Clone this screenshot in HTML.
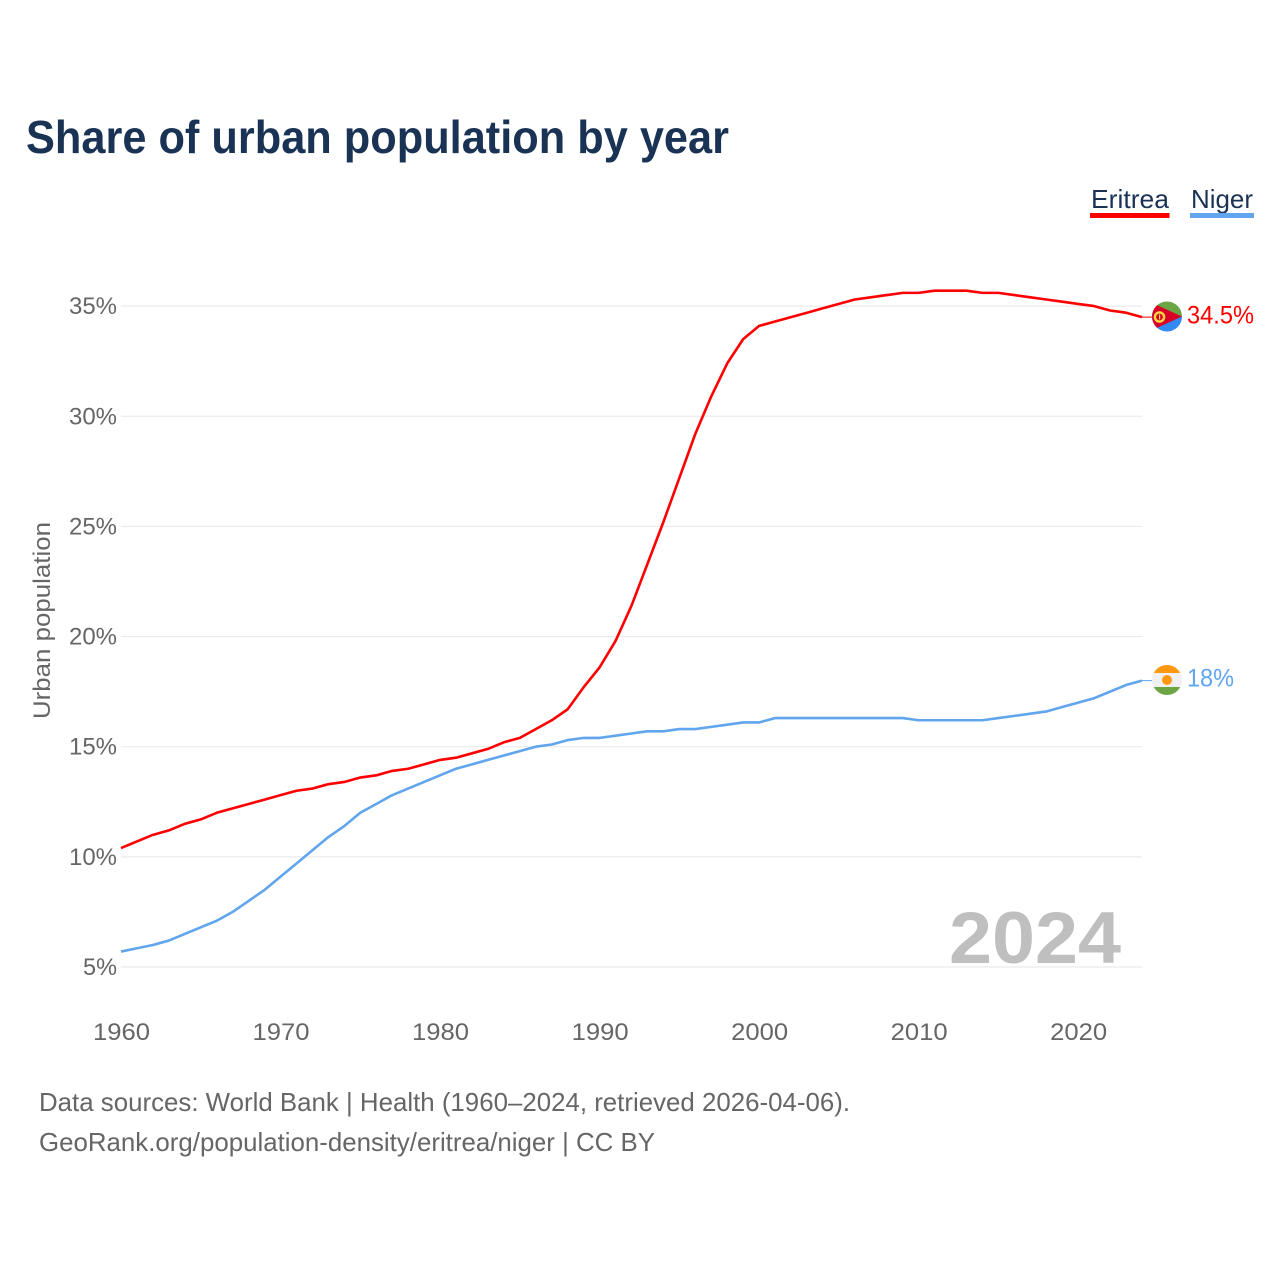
<!DOCTYPE html>
<html>
<head>
<meta charset="utf-8">
<title>Share of urban population by year</title>
<style>
html,body{margin:0;padding:0;background:#fff;width:1280px;height:1280px;overflow:hidden}
svg{display:block}
text{font-family:"Liberation Sans",sans-serif}
</style>
</head>
<body>
<svg id="chart" xmlns="http://www.w3.org/2000/svg" width="1280" height="1280" viewBox="0 0 1280 1280">
  <defs>
    <clipPath id="flag-clip-e"><circle cx="1167" cy="316.5" r="15"/></clipPath>
    <clipPath id="flag-clip-n"><circle cx="1167" cy="680" r="15"/></clipPath>
  </defs>
  <text x="26" y="153" font-size="46" font-weight="700" fill="#1a3355" textLength="703" lengthAdjust="spacingAndGlyphs">Share of urban population by year</text>

  <g>
    <g>
      <text x="1091" y="208" font-size="26" fill="#1a3355" textLength="78" lengthAdjust="spacingAndGlyphs">Eritrea</text>
      <rect x="1090" y="213" width="79.5" height="5" fill="#ff0000"/>
    </g>
    <g>
      <text x="1191" y="208" font-size="26" fill="#1a3355" textLength="62" lengthAdjust="spacingAndGlyphs">Niger</text>
      <rect x="1190" y="213" width="64" height="5" fill="#60a5ee"/>
    </g>
  </g>

  <text transform="translate(50,620.5) rotate(-90)" text-anchor="middle" font-size="24" fill="#666" textLength="197" lengthAdjust="spacingAndGlyphs">Urban population</text>

  <g id="grid"></g>
  <g id="yticks"></g>
  <g id="xticks"></g>

  <text x="1121" y="963" text-anchor="end" font-size="73" font-weight="700" fill="#bfbfbf" textLength="172" lengthAdjust="spacingAndGlyphs">2024</text>

  <g id="lines"></g>

  <g clip-path="url(#flag-clip-e)">
    <rect x="1150" y="300" width="34" height="17" fill="#6da544"/>
    <rect x="1150" y="316.5" width="34" height="17" fill="#338af3"/>
    <polygon points="1150,302 1182,316.5 1150,331" fill="#d80027"/>
    <circle cx="1159.5" cy="317" r="4.6" fill="none" stroke="#ffda44" stroke-width="2.4"/>
    <rect x="1159" y="314.5" width="1.2" height="5" fill="#ffda44"/>
  </g>
  <g clip-path="url(#flag-clip-n)">
    <rect x="1150" y="663" width="34" height="11" fill="#ff9811"/>
    <rect x="1150" y="673" width="34" height="14" fill="#f0f0f0"/>
    <rect x="1150" y="687" width="34" height="10" fill="#6da544"/>
    <circle cx="1167" cy="680" r="5" fill="#ff9811"/>
  </g>

  <text x="1187" y="323.5" font-size="25" fill="#ff0000" textLength="67" lengthAdjust="spacingAndGlyphs">34.5%</text>
  <text x="1187" y="686.5" font-size="25" fill="#60a5ee" textLength="47" lengthAdjust="spacingAndGlyphs">18%</text>

  <text x="39" y="1111" font-size="26" fill="#666" textLength="811" lengthAdjust="spacingAndGlyphs">Data sources: World Bank | Health (1960–2024, retrieved 2026-04-06).</text>
  <text x="39" y="1151" font-size="26" fill="#666" textLength="616" lengthAdjust="spacingAndGlyphs">GeoRank.org/population-density/eritrea/niger | CC BY</text>
</svg>
<script>
const firstYear = 1960;
const eritreaValues = [10.4,10.7,11.0,11.2,11.5,11.7,12.0,12.2,12.4,12.6,12.8,13.0,13.1,13.3,13.4,13.6,13.7,13.9,14.0,14.2,14.4,14.5,14.7,14.9,15.2,15.4,15.8,16.2,16.7,17.7,18.6,19.8,21.4,23.3,25.2,27.2,29.2,30.9,32.4,33.5,34.1,34.3,34.5,34.7,34.9,35.1,35.3,35.4,35.5,35.6,35.6,35.7,35.7,35.7,35.6,35.6,35.5,35.4,35.3,35.2,35.1,35.0,34.8,34.7,34.5];
const nigerValues = [5.7,5.85,6.0,6.2,6.5,6.8,7.1,7.5,8.0,8.5,9.1,9.7,10.3,10.9,11.4,12.0,12.4,12.8,13.1,13.4,13.7,14.0,14.2,14.4,14.6,14.8,15.0,15.1,15.3,15.4,15.4,15.5,15.6,15.7,15.7,15.8,15.8,15.9,16.0,16.1,16.1,16.3,16.3,16.3,16.3,16.3,16.3,16.3,16.3,16.3,16.2,16.2,16.2,16.2,16.2,16.3,16.4,16.5,16.6,16.8,17.0,17.2,17.5,17.8,18.0];
const yTickValues = [5,10,15,20,25,30,35];
const xTickValues = [1960,1970,1980,1990,2000,2010,2020];

const NS = 'http://www.w3.org/2000/svg';
function xScale(year){ return 121 + (year - 1960) * 15.953; }
function yScale(v){ return 967 - (v - 5) * 22.03; }

const grid = document.getElementById('grid');
const yticks = document.getElementById('yticks');
const xticks = document.getElementById('xticks');
const lines = document.getElementById('lines');

yTickValues.forEach(function(v){
  const g = document.createElementNS(NS,'line');
  g.setAttribute('x1', 121);
  g.setAttribute('x2', 1142);
  g.setAttribute('y1', yScale(v));
  g.setAttribute('y2', yScale(v));
  g.setAttribute('stroke', '#ebebeb');
  g.setAttribute('stroke-width', '1.2');
  
  
  grid.appendChild(g);
  const t = document.createElementNS(NS,'text');
  t.setAttribute('x', 117);
  t.setAttribute('y', yScale(v) + 8);
  t.setAttribute('text-anchor', 'end');
  t.setAttribute('font-size', '24');
  t.setAttribute('fill', '#666');
  t.setAttribute('textLength', v < 10 ? 34 : 48);
  t.setAttribute('lengthAdjust', 'spacingAndGlyphs');
  
  
  t.textContent = v + '%';
  yticks.appendChild(t);
});

xTickValues.forEach(function(y){
  const t = document.createElementNS(NS,'text');
  t.setAttribute('x', xScale(y) + 0.5);
  t.setAttribute('y', 1040);
  t.setAttribute('text-anchor', 'middle');
  t.setAttribute('font-size', '24');
  t.setAttribute('fill', '#666');
  t.setAttribute('textLength', 57);
  t.setAttribute('lengthAdjust', 'spacingAndGlyphs');
  
  
  t.textContent = y;
  xticks.appendChild(t);
});

function pathFor(values){
  return values.map(function(v,i){
    return (i ? 'L' : 'M') + xScale(firstYear + i).toFixed(2) + ' ' + yScale(v).toFixed(2);
  }).join(' ');
}

function addConnector(values, color){
  const last = values[values.length - 1];
  const c = document.createElementNS(NS,'line');
  c.setAttribute('x1', xScale(firstYear + values.length - 1));
  c.setAttribute('x2', 1152);
  c.setAttribute('y1', yScale(last));
  c.setAttribute('y2', yScale(last));
  c.setAttribute('stroke', color);
  c.setAttribute('stroke-width', '1');
  
  
  lines.appendChild(c);
}

const eritreaPath = document.createElementNS(NS,'path');
eritreaPath.setAttribute('d', pathFor(eritreaValues));
eritreaPath.setAttribute('fill', 'none');
eritreaPath.setAttribute('stroke', '#ff0000');
eritreaPath.setAttribute('stroke-width', '2.6');
eritreaPath.setAttribute('stroke-linejoin', 'round');



const nigerPath = document.createElementNS(NS,'path');
nigerPath.setAttribute('d', pathFor(nigerValues));
nigerPath.setAttribute('fill', 'none');
nigerPath.setAttribute('stroke', '#60a5ee');
nigerPath.setAttribute('stroke-width', '2.6');
nigerPath.setAttribute('stroke-linejoin', 'round');



lines.appendChild(nigerPath);
lines.appendChild(eritreaPath);
addConnector(eritreaValues, '#ff0000');
addConnector(nigerValues, '#60a5ee');
</script>
</body>
</html>
